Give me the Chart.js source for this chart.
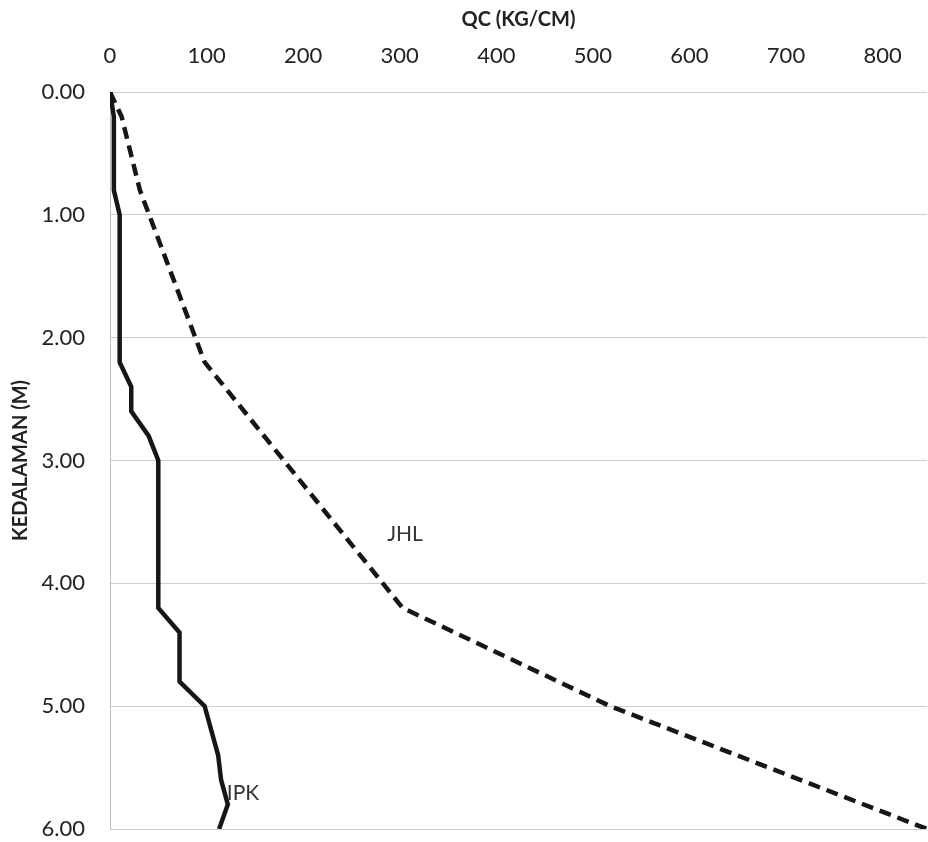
<!DOCTYPE html>
<html>
<head>
<meta charset="utf-8">
<script src="https://cdn.jsdelivr.net/npm/chart.js@4.4.1/dist/chart.umd.min.js"></script>
<style>
  html, body { margin: 0; padding: 0; background: #fff; overflow: hidden; }
</style>
</head>
<body>
<canvas id="lineChart" width="928" height="842"></canvas>
<script>
// Depth (m) / cone resistance qc
const depthIPK = [0, 0.2, 0.8, 1.0, 2.2, 2.4, 2.6, 2.8, 3.0, 4.2, 4.4, 4.8, 5.0, 5.2, 5.4, 5.6, 5.8, 6.0];
const qcIPK    = [0, 4, 4, 10, 10, 22, 22, 40, 50, 50, 72, 72, 98, 105, 112, 115, 122, 113];

const depthJHL = [0, 0.2, 0.8, 2.2, 4.2, 5.0, 6.0];
const qcJHL    = [0, 12, 31, 98, 303, 518, 846];

const qcTicks = [0, 100, 200, 300, 400, 500, 600, 700, 800];
const depthTicks = [0, 1, 2, 3, 4, 5, 6];

const seriesLabels = [
  { text: 'JHL', qc: 287, depth: 3.6 },
  { text: 'IPK', qc: 121, depth: 5.71 }
];

function toPoints(xs, ys) {
  return xs.map((d, i) => ({ x: ys[i], y: d }));
}

// draws the JHL / IPK names next to their lines
const lineNames = {
  id: 'lineNames',
  afterDatasetsDraw(chart) {
    const ctx = chart.ctx;
    const xs = chart.scales.x, ys = chart.scales.y;
    ctx.save();
    ctx.font = '21px Lato, sans-serif';
    ctx.fillStyle = '#333';
    ctx.textAlign = 'left';
    ctx.textBaseline = 'middle';
    seriesLabels.forEach(l => {
      ctx.fillText(l.text, xs.getPixelForValue(l.qc), ys.getPixelForValue(l.depth));
    });
    ctx.restore();
  }
};

const ctx = document.getElementById('lineChart').getContext('2d');
new Chart(ctx, {
  type: 'scatter',
  data: {
    datasets: [
      {
        label: 'IPK',
        data: toPoints(depthIPK, qcIPK),
        showLine: true,
        borderColor: '#161616',
        borderWidth: 4.5,
        pointRadius: 0,
        tension: 0
      },
      {
        label: 'JHL',
        data: toPoints(depthJHL, qcJHL),
        showLine: true,
        borderColor: '#161616',
        borderWidth: 4.5,
        borderDash: [12, 7],
        pointRadius: 0,
        tension: 0
      }
    ]
  },
  options: {
    responsive: false,
    animation: false,
    layout: { padding: { top: 0, left: 0, right: 1, bottom: 13 } },
    plugins: {
      legend: { display: false },
      tooltip: { enabled: false }
    },
    scales: {
      x: {
        type: 'linear',
        position: 'top',
        min: 0,
        max: 846,
        afterBuildTicks: scale => { scale.ticks = qcTicks.map(v => ({ value: v })); },
        afterFit: scale => { scale.height = 92; scale.paddingLeft = 0; scale.paddingRight = 0; },
        grid: { display: false, drawTicks: false },
        border: { display: false },
        ticks: {
          padding: 23,
          color: '#222',
          font: { family: 'Lato', size: 22 },
          maxRotation: 0
        },
        title: {
          display: true,
          text: 'QC (KG/CM)',
          color: '#222',
          font: { family: 'Lato', size: 20, weight: 'bold' },
          padding: { top: 8, bottom: 0 }
        }
      },
      y: {
        type: 'linear',
        reverse: true,
        min: 0,
        max: 6,
        afterBuildTicks: scale => { scale.ticks = depthTicks.map(v => ({ value: v })); },
        afterFit: scale => { scale.width = 110; scale.paddingTop = 0; scale.paddingBottom = 0; },
        grid: { color: '#cfcfcf', lineWidth: 1, drawTicks: false },
        border: { display: true, color: '#bdbdbd', width: 1 },
        ticks: {
          padding: 25,
          color: '#222',
          font: { family: 'Lato', size: 22 },
          callback: v => Number(v).toFixed(2)
        },
        title: {
          display: true,
          text: 'KEDALAMAN (M)',
          color: '#222',
          font: { family: 'Lato', size: 20, weight: 'bold' },
          padding: { top: 9, bottom: 0 }
        }
      }
    }
  },
  plugins: [lineNames]
});
</script>
</body>
</html>
